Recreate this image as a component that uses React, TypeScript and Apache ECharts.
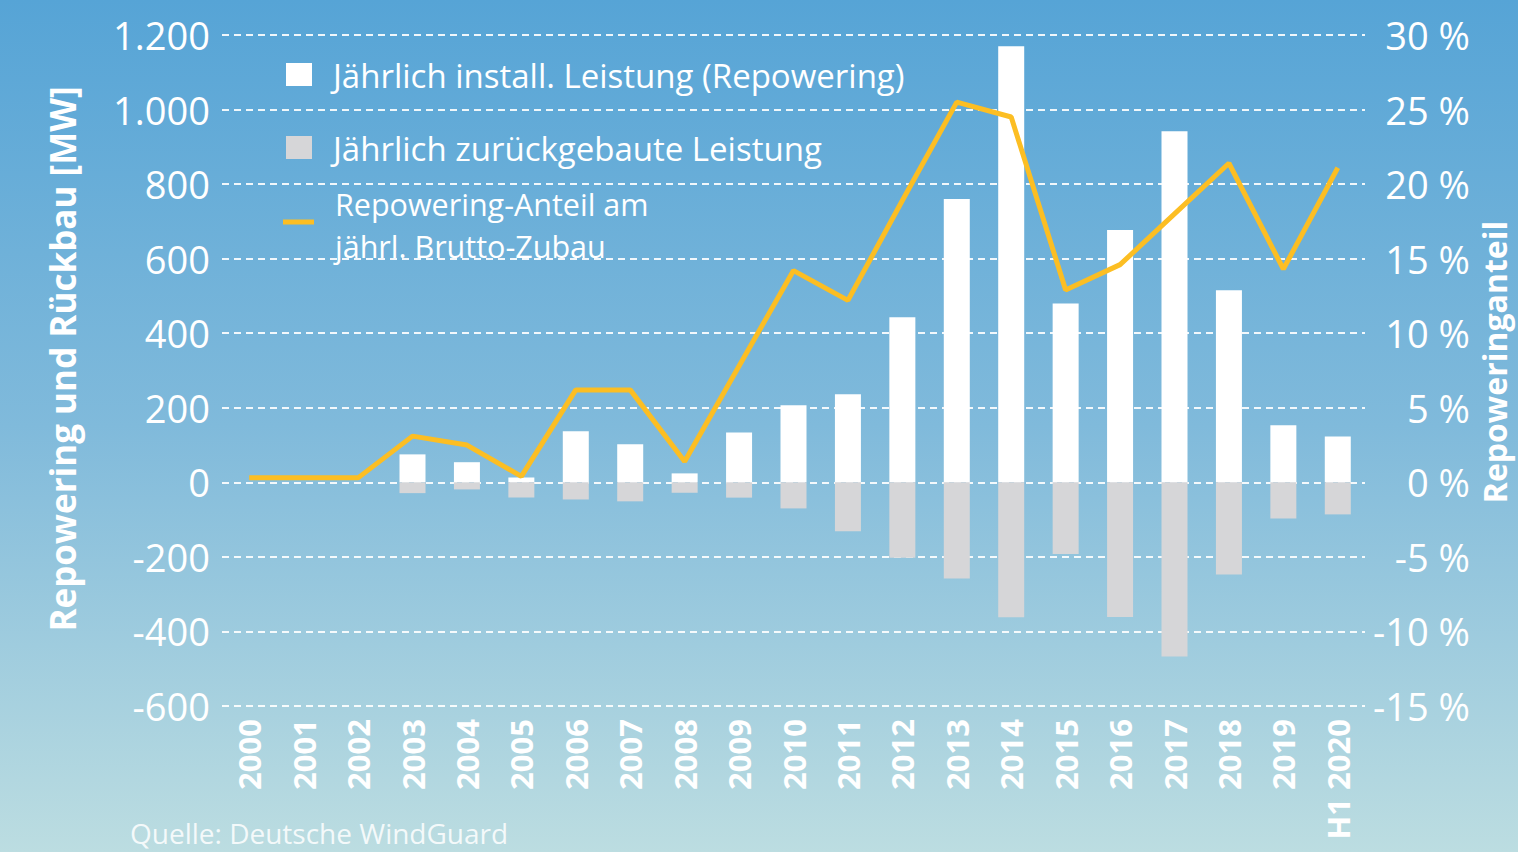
import React, { useEffect, useRef } from "react";
import * as echarts from "echarts";

const categories = ["2000","2001","2002","2003","2004","2005","2006","2007","2008","2009","2010","2011","2012","2013","2014","2015","2016","2017","2018","2019","H1 2020"];
const installed = [null,null,null,75,54,13,137,102,24,134,207,236,443,760,1170,480,677,942,515,153,123];
const removed = [null,null,null,-29,-19,-41,-46,-51,-28,-41,-70,-131,-202,-258,-362,-192,-361,-467,-247,-97,-86];
const share = [0.3,0.3,0.3,3.1,2.5,0.4,6.2,6.2,1.4,7.8,14.2,12.2,18.9,25.5,24.5,12.9,14.6,18.0,21.4,14.3,21.1];

const legendInstalled = "Jährlich install. Leistung (Repowering)";
const legendRemoved = "Jährlich zurückgebaute Leistung";
const legendShareLine1 = "Repowering-Anteil am";
const legendShareLine2 = "jährl. Brutto-Zubau";
const leftAxisName = "Repowering und Rückbau [MW]";
const rightAxisName = "Repoweringanteil";
const sourceText = "Quelle: Deutsche WindGuard";

const FONT = "'Open Sans', 'Noto Sans', sans-serif";
const YELLOW = "#FCBE23";
const GRAY = "#D6D6D8";

function fmtThousands(v: number) {
  const s = Math.abs(v).toString().replace(/\B(?=(\d{3})+(?!\d))/g, ".");
  return (v < 0 ? "-" : "") + s;
}

export default function App() {
  const ref = useRef<HTMLDivElement>(null);
  useEffect(() => {
    document.body.style.margin = "0";
    if (!ref.current) return;
    const chart = echarts.init(ref.current, null, { renderer: "svg" });
    chart.setOption({
      animation: false,
      backgroundColor: new echarts.graphic.LinearGradient(0, 0, 0, 1, [
        { offset: 0, color: "#56A4D6" },
        { offset: 0.5, color: "#80BADB" },
        { offset: 1, color: "#BCDDE1" },
      ]),
      grid: { left: 222, right: 153, top: 35, bottom: 146 },
      xAxis: {
        type: "category",
        data: categories,
        axisLine: { show: false },
        axisTick: { show: false },
        axisLabel: {
          rotate: 90,
          color: "#fff",
          fontFamily: FONT,
          fontWeight: "bold",
          fontSize: 31,
          margin: 13,
          interval: 0,
        },
      },
      yAxis: [
        {
          type: "value",
          min: -600,
          max: 1200,
          interval: 200,
          axisLine: { show: false },
          axisTick: { show: false },
          axisLabel: {
            color: "#fff",
            fontFamily: FONT,
            fontSize: 38,
            margin: 12,
            formatter: (v: number) => fmtThousands(v),
          },
          splitLine: {
            show: true,
            lineStyle: { color: "rgba(255,255,255,0.9)", width: 2, type: [7, 5] },
          },
        },
        {
          type: "value",
          min: -15,
          max: 30,
          interval: 5,
          axisLine: { show: false },
          axisTick: { show: false },
          splitLine: { show: false },
          axisLabel: {
            color: "#fff",
            fontFamily: FONT,
            fontSize: 38,
            margin: 105,
            align: "right",
            formatter: (v: number) => v + " %",
          },
        },
      ],
      series: [
        {
          name: legendInstalled,
          type: "bar",
          data: installed,
          barWidth: 26,
          barGap: "-100%",
          itemStyle: { color: "#FFFFFF" },
        },
        {
          name: legendRemoved,
          type: "bar",
          data: removed,
          barWidth: 26,
          itemStyle: { color: GRAY },
        },
        {
          name: legendShareLine1 + " " + legendShareLine2,
          type: "line",
          yAxisIndex: 1,
          data: share,
          symbol: "none",
          lineStyle: { color: YELLOW, width: 5 },
          itemStyle: { color: YELLOW },
          z: 5,
        },
      ],
      graphic: [
        { type: "rect", left: 286, top: 63, shape: { width: 26, height: 23 }, style: { fill: "#fff" } },
        {
          type: "text", x: 333, y: 75,
          style: { text: legendInstalled, fill: "#fff", font: `33px ${FONT}`, lineHeight: 36, textVerticalAlign: "middle" },
        },
        { type: "rect", left: 286, top: 136, shape: { width: 26, height: 23 }, style: { fill: GRAY } },
        {
          type: "text", x: 333, y: 148,
          style: { text: legendRemoved, fill: "#fff", font: `33px ${FONT}`, lineHeight: 36, textVerticalAlign: "middle" },
        },
        {
          type: "line", shape: { x1: 283, y1: 222, x2: 314, y2: 222 },
          style: { stroke: YELLOW, lineWidth: 5 },
        },
        {
          type: "text", x: 335, y: 204,
          style: { text: legendShareLine1, fill: "#fff", font: `30.5px ${FONT}`, lineHeight: 34, textVerticalAlign: "middle" },
        },
        {
          type: "text", x: 335, y: 246,
          style: { text: legendShareLine2, fill: "#fff", font: `30.5px ${FONT}`, lineHeight: 34, textVerticalAlign: "middle" },
        },
        {
          type: "text", x: 62, y: 359, rotation: Math.PI / 2,
          style: { text: leftAxisName, fill: "#fff", font: `bold 35px ${FONT}`, lineHeight: 38, textAlign: "center", textVerticalAlign: "middle" },
        },
        {
          type: "text", x: 1494, y: 362, rotation: Math.PI / 2,
          style: { text: rightAxisName, fill: "#fff", font: `bold 32px ${FONT}`, lineHeight: 32, textAlign: "center", textVerticalAlign: "middle" },
        },
        {
          type: "text", x: 130, y: 833,
          style: { text: sourceText, fill: "rgba(255,255,255,0.85)", font: `28px ${FONT}`, lineHeight: 30, textVerticalAlign: "middle" },
        },
      ],
    });
    return () => chart.dispose();
  }, []);
  return <div ref={ref} style={{ width: 1518, height: 852 }} />;
}
